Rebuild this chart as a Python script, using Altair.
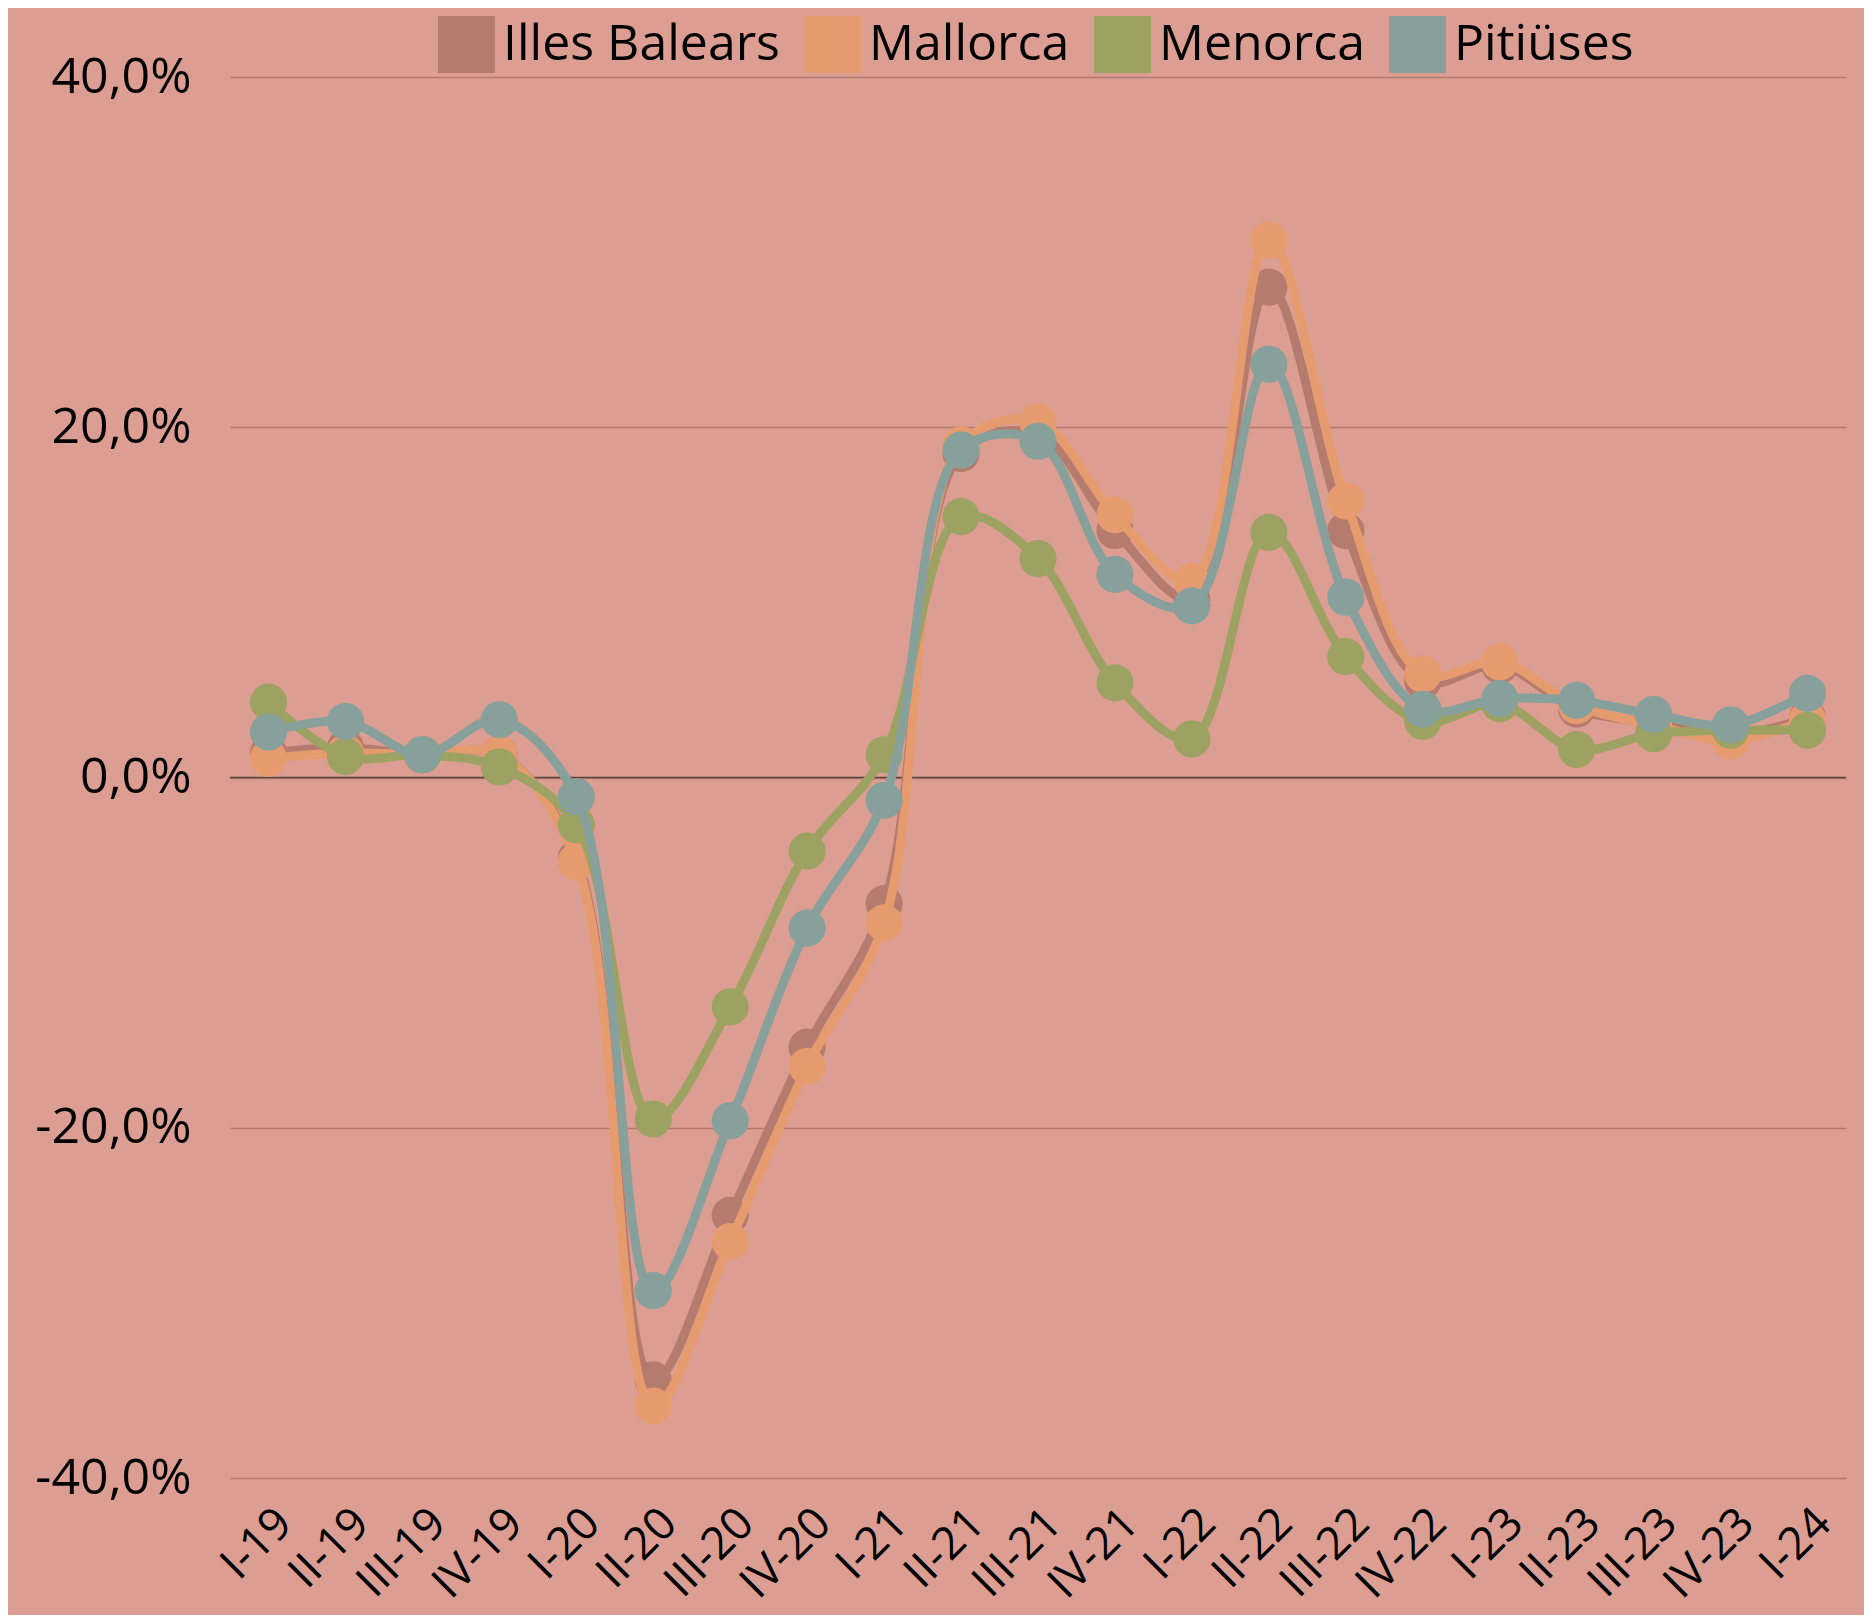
import altair as alt
import pandas as pd

quarters = ["I-19", "II-19", "III-19", "IV-19", "I-20", "II-20", "III-20", "IV-20",
            "I-21", "II-21", "III-21", "IV-21", "I-22", "II-22", "III-22", "IV-22",
            "I-23", "II-23", "III-23", "IV-23", "I-24"]

illes_balears = [1.4, 1.7, 1.3, 1.3, -4.6, -34.4, -25.0, -15.4, -7.2, 18.5, 19.6, 14.1,
                 10.2, 28.0, 14.1, 5.5, 6.4, 3.9, 3.1, 2.4, 3.4]
mallorca = [1.1, 1.4, 1.3, 1.3, -4.8, -35.9, -26.5, -16.5, -8.3, 19.0, 20.3, 15.0,
            11.2, 30.7, 15.8, 5.9, 6.6, 4.1, 3.0, 2.1, 3.3]
menorca = [4.3, 1.2, 1.3, 0.6, -2.7, -19.5, -13.1, -4.2, 1.3, 14.9, 12.5, 5.4,
           2.2, 14.0, 6.9, 3.2, 4.2, 1.6, 2.5, 2.7, 2.7]
pitiuses = [2.6, 3.2, 1.3, 3.3, -1.1, -29.3, -19.6, -8.6, -1.3, 18.7, 19.2, 11.6,
            9.8, 23.6, 10.3, 3.9, 4.5, 4.4, 3.6, 3.0, 4.8]

series_names = ["Illes Balears", "Mallorca", "Menorca", "Pitiüses"]
series_values = [illes_balears, mallorca, menorca, pitiuses]
colors = ["#B57B6E", "#E59B6E", "#9DA263", "#87A09B"]

rows = []
for name, vals in zip(series_names, series_values):
    for q, v in zip(quarters, vals):
        rows.append({"q": q, "v": v, "s": name})
df = pd.DataFrame(rows)

FONT = "Open Sans"

x_enc = alt.X("q:N", sort=quarters,
              scale=alt.Scale(type="point", padding=0.5),
              axis=alt.Axis(title=None, labelAngle=-45, domain=False, ticks=False,
                            grid=False, labelFontSize=45, labelPadding=22,
                            labelColor="#000000", labelFont=FONT))
y_enc = alt.Y("v:Q", scale=alt.Scale(domain=[-40, 40], nice=False, zero=False),
              axis=alt.Axis(title=None, values=[-40, -20, 0, 20, 40], domain=False,
                            ticks=False, grid=True, gridColor="#B57A6F", gridWidth=1.5,
                            labelFontSize=50, labelPadding=39, labelColor="#000000",
                            labelFont=FONT,
                            labelExpr="replace(replace(format(datum.value, '.1f'), '.', ','), '\u2212', '-') + '%'"))
color_enc = alt.Color("s:N", scale=alt.Scale(domain=series_names, range=colors),
                      legend=alt.Legend(title=None, orient="none", legendX=208, legendY=-61,
                                        direction="horizontal", symbolType="square",
                                        symbolSize=3249, symbolStrokeWidth=0,
                                        labelFontSize=50, labelFont=FONT, labelLimit=0,
                                        labelColor="#000000", labelOffset=8,
                                        columnPadding=24, padding=0,
                                        symbolOpacity=1))

zero = alt.Chart(pd.DataFrame({"z": [0]})).mark_rule(color="#5A4540", strokeWidth=1.5).encode(
    y=alt.Y("z:Q"))

layers = [zero]
for name in series_names:
    base = alt.Chart(df).transform_filter(alt.datum.s == name)
    layers.append(base.mark_line(interpolate="catmull-rom", strokeWidth=9).encode(
        x=x_enc, y=y_enc, color=color_enc))
    layers.append(base.mark_circle(size=1380, opacity=1).encode(
        x=x_enc, y=y_enc, color=color_enc))

chart = alt.layer(*layers).properties(
    width=1616, height=1401,
    autosize=alt.AutoSizeParams(type="none"),
    padding={"left": 222, "top": 69, "right": 18, "bottom": 137},
    background="#DC9E92",
).configure_view(stroke=None)

chart.save("out.html", embed_options={"renderer": "svg", "actions": False})
